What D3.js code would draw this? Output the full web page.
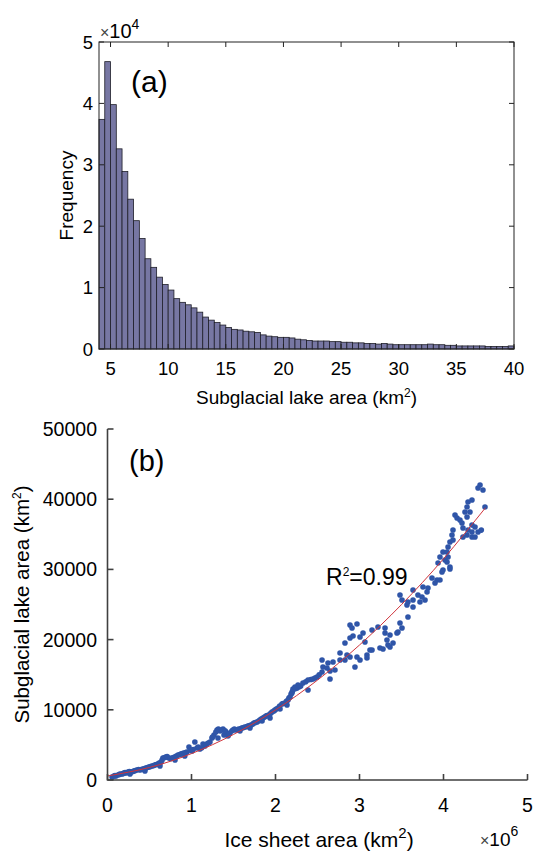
<!DOCTYPE html>
<html>
<head>
<meta charset="utf-8">
<script src="https://cdn.jsdelivr.net/npm/d3@7"></script>
<style>
  body { margin: 0; background: #fff; }
  svg { display: block; font-family: "Liberation Sans", Arial, sans-serif; }
</style>
</head>
<body>
<div id="chart"></div>
<script>
// histogram (a): bin width 0.5 km2 from 4 to 40, counts in units of 1e4
const binStart = 4;
const binWidth = 0.5;
const binCounts = [
  3.74, 4.68, 3.98, 3.26, 2.89, 2.44, 2.09, 1.80, 1.47, 1.33, 1.17, 1.05,
  0.96, 0.82, 0.76, 0.72, 0.67, 0.60, 0.52, 0.47, 0.43, 0.39, 0.35, 0.32,
  0.31, 0.29, 0.28, 0.27, 0.23, 0.21, 0.20, 0.19, 0.19, 0.18, 0.16, 0.15,
  0.14, 0.13, 0.13, 0.13, 0.12, 0.12, 0.11, 0.11, 0.10, 0.10, 0.09, 0.09,
  0.08, 0.09, 0.08, 0.07, 0.07, 0.07, 0.07, 0.07, 0.07, 0.08, 0.07, 0.07,
  0.06, 0.06, 0.05, 0.05, 0.05, 0.05, 0.05, 0.04, 0.04, 0.04, 0.04, 0.05
];
const histXTicks = [5, 10, 15, 20, 25, 30, 35, 40];
const histYTicks = [0, 1, 2, 3, 4, 5];

// scatter (b): ice sheet area (1e6 km2), subglacial lake area (km2)
const iceArea = [
  0.054, 0.077, 0.10, 0.125, 0.149, 0.173, 0.196, 0.22, 0.244, 0.268, 0.28, 0.315,
  0.35, 0.387, 0.42, 0.446, 0.458, 0.494, 0.53, 0.565, 0.60, 0.625, 0.637, 0.66,
  0.696, 0.73, 0.768, 0.80, 0.804, 0.84, 0.875, 0.91, 0.92, 0.946, 0.97, 1.006,
  1.04, 1.065, 1.10, 1.137, 1.16,
  0.09, 0.14, 0.185, 0.21, 0.26, 0.30, 0.33, 0.37, 0.40, 0.44, 0.475, 0.51,
  0.55, 0.58, 0.615, 0.65, 0.68, 0.71, 0.75, 0.785, 0.82, 0.86, 0.89, 0.93,
  0.985, 1.02, 1.08, 1.12, 1.18, 1.20,
  1.22, 1.244, 1.268, 1.304, 1.315, 1.34, 1.375, 1.387, 1.41, 1.435, 1.458, 1.494,
  1.53, 1.565, 1.577, 1.60, 1.637, 1.673, 1.696, 1.71, 1.744, 1.78, 1.815, 1.84,
  1.85, 1.887, 1.92, 1.935, 1.958, 1.994, 2.03, 2.054, 2.077, 2.113, 2.149, 2.185,
  2.22, 2.256, 2.28,
  1.25, 1.29, 1.32, 1.36, 1.40, 1.45, 1.48, 1.51, 1.55, 1.59, 1.62, 1.66,
  1.69, 1.73, 1.76, 1.80, 1.83, 1.87, 1.90, 1.94, 1.98, 2.01, 2.05, 2.09,
  2.13, 2.16, 2.20, 2.24, 2.30, 2.36, 2.42, 2.47, 2.52,
  2.137, 2.173, 2.196, 2.208, 2.232, 2.268, 2.327, 2.387, 2.387, 2.446, 2.494, 2.554,
  2.554, 2.565, 2.613, 2.625, 2.649, 2.649, 2.685, 2.708, 2.768, 2.768, 2.827, 2.827,
  2.851, 2.887, 2.887, 2.887, 2.911, 2.923, 2.946, 2.970, 2.970, 3.006, 3.006, 3.042,
  3.065, 3.089, 3.089, 3.125, 3.149, 3.149, 3.220, 3.244, 3.280, 3.304, 3.304, 3.327,
  3.339, 3.363, 3.363, 3.399, 3.446, 3.458, 3.482, 3.506, 3.506, 3.565, 3.577, 3.637,
  3.720, 3.780,
  3.482, 3.577, 3.637, 3.637, 3.696, 3.744, 3.756, 3.804, 3.815, 3.863, 3.899, 3.923,
  3.958, 3.982, 3.935, 3.958, 3.994, 3.994, 4.018, 4.042, 4.042, 4.054, 4.054, 4.077,
  4.077, 4.077, 4.101, 4.113, 4.113, 4.137, 4.161, 4.196, 4.220, 4.232, 4.232, 4.256,
  4.280, 4.280, 4.280, 4.292, 4.292, 4.315, 4.339, 4.339, 4.339, 4.339, 4.375, 4.375,
  4.411, 4.411, 4.435, 4.470, 4.494, 4.45
];
const lakeArea = [
  430, 570, 570, 710, 850, 850, 1000, 1000, 1140, 850, 1140, 1280,
  1420, 1420, 1570, 1280, 1710, 1850, 1990, 2140, 2280, 1990, 2560, 3130,
  3280, 3130, 3130, 3280, 2850, 3560, 3700, 3850, 3420, 3990, 4700, 4130,
  5410, 4560, 4420, 5130, 4840,
  640, 780, 930, 1070, 1200, 1210, 1350, 1500, 1490, 1640, 1780, 1920,
  2060, 2210, 2420, 2850, 3200, 3350, 3050, 3200, 3420, 3630, 3780, 3920,
  4270, 4350, 4700, 4560, 5130, 5270,
  5410, 5980, 6410, 7120, 5980, 6980, 7260, 6410, 6840, 6270, 6700, 7120,
  7120, 7260, 6980, 7410, 7550, 7690, 7410, 7830, 8120, 8260, 8550, 8400,
  8830, 9120, 9260, 8830, 9690, 9970, 10260, 10110, 10830, 10970, 11400, 12250,
  12960, 13110, 13250,
  6120, 6840, 7260, 7120, 7000, 6560, 6980, 7260, 7180, 7330, 7480, 7620,
  7760, 7970, 8190, 8400, 8690, 8970, 9190, 9480, 9830, 10110, 10540, 10900,
  11200, 11680, 12600, 13030, 13400, 14000, 14320, 14530, 15000,
  10680, 11820, 12390, 12960, 13250, 13530, 13820, 14250, 12820, 14390, 14670, 15380,
  17090, 16100, 15950, 16670, 15530, 14390, 16810, 15670, 17090, 18090, 17090, 19520,
  17810, 17520, 20230, 22080, 21650, 20510, 16100, 22220, 17520, 20370, 17090, 20940,
  19660, 17810, 17380, 18520, 21370, 18520, 21790, 18800, 18660, 21650, 20940, 19940,
  19230, 18950, 20660, 19520, 20940, 21080, 22360, 21650, 25640, 24930, 23220, 25640,
  25360, 25640,
  26350, 25360, 27070, 24640, 26350, 26070, 27490, 26780, 27350, 28770, 28060, 28490,
  28490, 29630, 30910, 31770, 29910, 32480, 31340, 31050, 32480, 31770, 33190, 30340,
  30060, 33900, 34900, 34190, 35610, 37750, 37320, 37040, 36610, 35900, 34620, 38180,
  37460, 38890, 34900, 35610, 39600, 38180, 39890, 36320, 35330, 34620, 36040, 34620,
  35330, 41600, 42020, 41310, 38890, 35600
];
// fitted curve
const fitX = [0, 0.5, 1.0, 1.5, 2.0, 2.5, 3.0, 3.5, 4.0, 4.5];
const fitY = [570, 1790, 3760, 6490, 9980, 14230, 19230, 24990, 31510, 38790];
const scatXTicks = [0, 1, 2, 3, 4, 5];
const scatYTicks = [0, 10000, 20000, 30000, 40000, 50000];

const W = 533, H = 852;
const svg = d3.select("#chart").append("svg")
  .attr("width", W).attr("height", H);

// ---------- panel (a) ----------
const ax = { left: 99, right: 514, top: 42, bottom: 349 };
const xa = d3.scaleLinear().domain([4, 40]).range([ax.left, ax.right]);
const ya = d3.scaleLinear().domain([0, 5]).range([ax.bottom, ax.top]);
const ga = svg.append("g");

ga.selectAll("rect.bar")
  .data(binCounts)
  .enter().append("rect")
  .attr("class", "bar")
  .attr("x", (d, i) => xa(binStart + i * binWidth))
  .attr("width", (d, i) => xa(binStart + (i + 1) * binWidth) - xa(binStart + i * binWidth))
  .attr("y", d => ya(d))
  .attr("height", d => ya(0) - ya(d))
  .style("fill", "#7777a3")
  .style("stroke", "#1e1e28")
  .style("stroke-width", 0.8);

// box
ga.append("rect")
  .attr("x", ax.left).attr("y", ax.top)
  .attr("width", ax.right - ax.left).attr("height", ax.bottom - ax.top)
  .style("fill", "none").style("stroke", "#222").style("stroke-width", 1);

const tl = 5;
histXTicks.forEach(t => {
  ga.append("line").attr("x1", xa(t)).attr("x2", xa(t))
    .attr("y1", ax.bottom).attr("y2", ax.bottom - tl).style("stroke", "#222");
  ga.append("line").attr("x1", xa(t)).attr("x2", xa(t))
    .attr("y1", ax.top).attr("y2", ax.top + tl).style("stroke", "#222");
  ga.append("text").attr("x", xa(t)).attr("y", 375)
    .attr("text-anchor", "middle").style("font-size", "18.5px").text(t);
});
histYTicks.forEach(t => {
  ga.append("line").attr("x1", ax.left).attr("x2", ax.left + tl)
    .attr("y1", ya(t)).attr("y2", ya(t)).style("stroke", "#222");
  ga.append("line").attr("x1", ax.right).attr("x2", ax.right - tl)
    .attr("y1", ya(t)).attr("y2", ya(t)).style("stroke", "#222");
  ga.append("text").attr("x", 93).attr("y", ya(t)).attr("dy", "0.36em")
    .attr("text-anchor", "end").style("font-size", "18.5px").text(t);
});

// x10^4 multiplier
const m4 = ga.append("text").attr("x", 100).attr("y", 38).style("font-size", "20px");
m4.append("tspan").style("font-size", "16px").style("fill", "#444").text("\u00d7");
m4.append("tspan").text("10");
m4.append("tspan").attr("dy", -9).style("font-size", "14px").text("4");

ga.append("text").attr("x", 131).attr("y", 92).style("font-size", "30px").text("(a)");

ga.append("text")
  .attr("transform", `translate(73,${(ax.top + ax.bottom) / 2}) rotate(-90)`)
  .attr("text-anchor", "middle").style("font-size", "19px").text("Frequency");

const xla = ga.append("text").attr("x", (ax.left + ax.right) / 2).attr("y", 404)
  .attr("text-anchor", "middle").style("font-size", "19px");
xla.append("tspan").text("Subglacial lake area (km");
xla.append("tspan").attr("dy", -7).style("font-size", "12px").text("2");
xla.append("tspan").attr("dy", 7).text(")");

// ---------- panel (b) ----------
const bx = { left: 107.5, right: 527.5, top: 429, bottom: 780 };
const xb = d3.scaleLinear().domain([0, 5]).range([bx.left, bx.right]);
const yb = d3.scaleLinear().domain([0, 50000]).range([bx.bottom, bx.top]);
const gb = svg.append("g");

const pts = iceArea.map((x, i) => [x, lakeArea[i]]);
gb.selectAll("circle.pt")
  .data(pts)
  .enter().append("circle")
  .attr("class", "pt")
  .attr("cx", d => xb(d[0]))
  .attr("cy", d => yb(d[1]))
  .attr("r", 2.8)
  .style("fill", "#2f55a8");

const fitLine = d3.line()
  .x((d, i) => xb(d))
  .y((d, i) => yb(fitY[i]))
  .curve(d3.curveNatural);
gb.append("path")
  .attr("d", fitLine(fitX))
  .style("fill", "none")
  .style("stroke", "#d0343c")
  .style("stroke-width", 1);

const axCol = "#404040";
gb.append("path")
  .attr("d", `M${bx.left},${bx.top}V${bx.bottom}H${bx.right}`)
  .style("fill", "none").style("stroke", axCol).style("stroke-width", 1.6);

const tlb = 6;
scatXTicks.forEach(t => {
  gb.append("line").attr("x1", xb(t)).attr("x2", xb(t))
    .attr("y1", bx.bottom).attr("y2", bx.bottom - tlb)
    .style("stroke", axCol).style("stroke-width", 1.6);
  gb.append("text").attr("x", xb(t)).attr("y", 812)
    .attr("text-anchor", "middle").style("font-size", "19.5px").text(t);
});
scatYTicks.forEach(t => {
  gb.append("line").attr("x1", bx.left).attr("x2", bx.left + tlb)
    .attr("y1", yb(t)).attr("y2", yb(t))
    .style("stroke", axCol).style("stroke-width", 1.6);
  gb.append("text").attr("x", 97).attr("y", yb(t)).attr("dy", "0.36em")
    .attr("text-anchor", "end").style("font-size", "19.5px").text(t);
});

gb.append("text").attr("x", 129).attr("y", 471).style("font-size", "29px").text("(b)");

const r2 = gb.append("text").attr("x", 326).attr("y", 585).style("font-size", "23px");
r2.append("tspan").text("R");
r2.append("tspan").attr("dy", -9).style("font-size", "12px").text("2");
r2.append("tspan").attr("dy", 9).text("=0.99");

const yl = gb.append("text")
  .attr("transform", `translate(29,${(bx.top + bx.bottom) / 2}) rotate(-90)`)
  .attr("text-anchor", "middle").style("font-size", "20.5px");
yl.append("tspan").text("Subglacial lake area (km");
yl.append("tspan").attr("dy", -8).style("font-size", "12px").text("2");
yl.append("tspan").attr("dy", 8).text(")");

const xl = gb.append("text").attr("x", 319).attr("y", 847)
  .attr("text-anchor", "middle").style("font-size", "21px");
xl.append("tspan").text("Ice sheet area (km");
xl.append("tspan").attr("dy", -9).style("font-size", "15px").text("2");
xl.append("tspan").attr("dy", 9).text(")");

const m6 = gb.append("text").attr("x", 480).attr("y", 846).style("font-size", "19px");
m6.append("tspan").style("font-size", "16px").style("fill", "#444").text("\u00d7");
m6.append("tspan").text("10");
m6.append("tspan").attr("dy", -10).style("font-size", "14px").text("6");
</script>
</body>
</html>
